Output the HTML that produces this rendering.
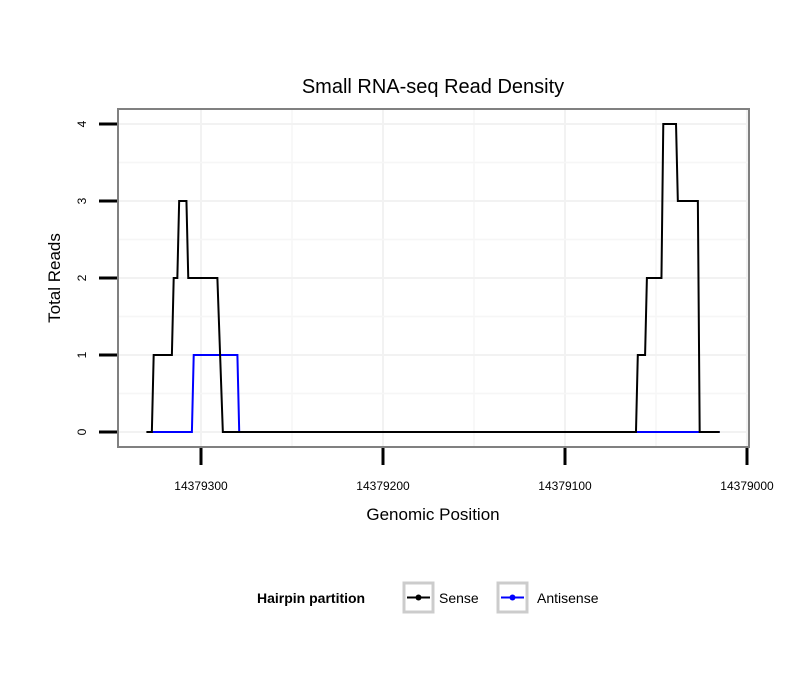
<!DOCTYPE html>
<html><head><meta charset="utf-8"><style>
body{margin:0;background:#fff;}
svg text{font-family:"Liberation Sans",sans-serif;}
</style></head><body>
<svg id="chart" width="810" height="690" xmlns="http://www.w3.org/2000/svg">
<rect width="810" height="690" fill="#fff"/>
<text x="433" y="93" font-size="20" text-anchor="middle">Small RNA-seq Read Density</text>
<g id="grid"></g>
<g id="series"></g>
<rect x="118" y="109" width="631" height="338" fill="none" stroke="#808080" stroke-width="2"/>
<g id="axes"></g>
<text x="433" y="520" font-size="17" text-anchor="middle">Genomic Position</text>
<text transform="translate(60,278) rotate(-90)" font-size="17" text-anchor="middle">Total Reads</text>
<g>
<text x="257" y="603" font-size="14" font-weight="bold">Hairpin partition</text>
<g>
<rect x="404" y="583" width="29" height="29" fill="#fff" stroke="#ccc" stroke-width="3"/>
<line x1="407" y1="597.5" x2="430" y2="597.5" stroke="#000" stroke-width="2"/>
<circle cx="418.5" cy="597.5" r="3" fill="#000"/>
<text x="439" y="603" font-size="14">Sense</text>
</g>
<g>
<rect x="498" y="583" width="29" height="29" fill="#fff" stroke="#ccc" stroke-width="3"/>
<line x1="501" y1="597.5" x2="524" y2="597.5" stroke="#00f" stroke-width="2"/>
<circle cx="512.5" cy="597.5" r="3" fill="#00f"/>
<text x="537" y="603" font-size="14">Antisense</text>
</g>
</g>
</svg>
<script>
const xTicks=[14379300,14379200,14379100,14379000];
const yTicks=[0,1,2,3,4];
const senseX=[14379330,14379327,14379326,14379316,14379315,14379313,14379312,14379308,14379307,14379291,14379288,14379061,14379060,14379056,14379055,14379047,14379046,14379039,14379038,14379027,14379026,14379015];
const senseY=[0,0,1,1,2,2,3,3,2,2,0,0,1,1,2,2,4,4,3,3,0,0];
const antiX=[14379327,14379305,14379304,14379280,14379279,14379015];
const antiY=[0,0,1,1,0,0];
const NS="http://www.w3.org/2000/svg";
function xs(v){return 201+(14379300-v)*1.82;}
function ys(v){return 432-v*77;}
function mk(tag,attrs,parent){const e=document.createElementNS(NS,tag);for(const k in attrs)e.setAttribute(k,attrs[k]);parent.appendChild(e);return e;}
const grid=document.getElementById('grid'),axes=document.getElementById('axes'),ser=document.getElementById('series');
// grid
for(let i=0;i<xTicks.length;i++){
  const g=mk('line',{x1:xs(xTicks[i]),x2:xs(xTicks[i]),y1:109,y2:447,stroke:'#f2f2f2','stroke-width':2},grid);
  
  
  if(i<xTicks.length-1){const m=(xTicks[i]+xTicks[i+1])/2;
    const g2=mk('line',{x1:xs(m),x2:xs(m),y1:109,y2:447,stroke:'#f6f6f6','stroke-width':1.5},grid);
    
    }
}
for(let i=0;i<yTicks.length;i++){
  const g=mk('line',{x1:118,x2:749,y1:ys(yTicks[i]),y2:ys(yTicks[i]),stroke:'#f2f2f2','stroke-width':2},grid);
  
  
  if(i<yTicks.length-1){const m=(yTicks[i]+yTicks[i+1])/2;
    const g2=mk('line',{x1:118,x2:749,y1:ys(m),y2:ys(m),stroke:'#f6f6f6','stroke-width':1.5},grid);
    
    }
}
// series
function pts(X,Y){return X.map((v,i)=>xs(v)+','+ys(Y[i])).join(' ');}
const pa=mk('polyline',{points:pts(antiX,antiY),fill:'none',stroke:'#00f','stroke-width':2},ser);


const ps=mk('polyline',{points:pts(senseX,senseY),fill:'none',stroke:'#000','stroke-width':2},ser);


// axes
xTicks.forEach(v=>{
  const t=mk('line',{x1:xs(v),x2:xs(v),y1:448,y2:465,stroke:'#000','stroke-width':3},axes);
  
  
  const l=mk('text',{x:xs(v),y:490,'font-size':12,'text-anchor':'middle'},axes);
  l.textContent=v;
  
  
});
yTicks.forEach(v=>{
  const t=mk('line',{x1:99,x2:117,y1:ys(v),y2:ys(v),stroke:'#000','stroke-width':3},axes);
  
  
  const l=mk('text',{transform:'translate(86,'+ys(v)+') rotate(-90)','font-size':12,'text-anchor':'middle'},axes);
  l.textContent=v;
  
  
});
</script>
</body></html>
